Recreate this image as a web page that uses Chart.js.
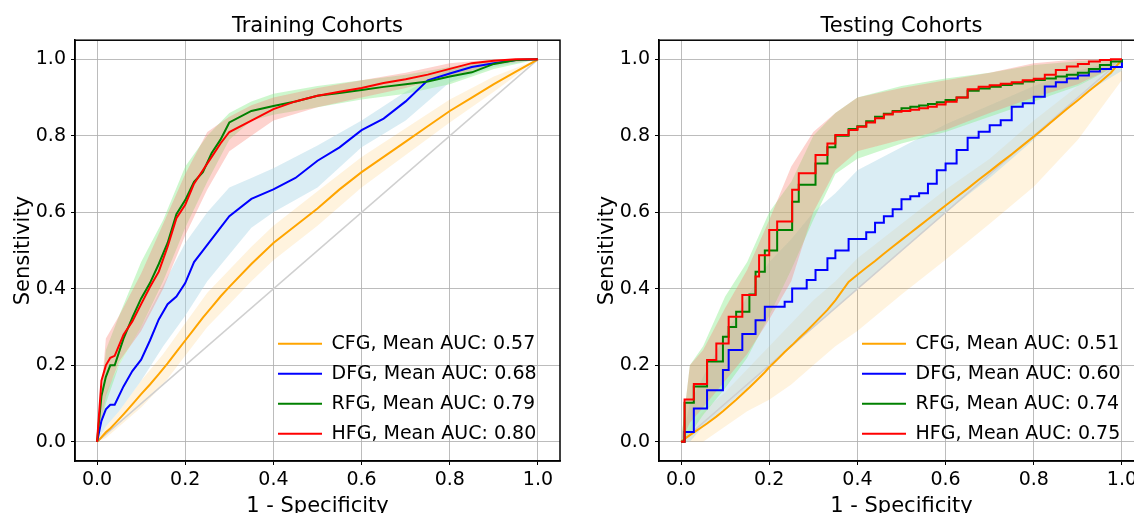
<!DOCTYPE html>
<html>
<head>
<meta charset="utf-8">
<script src="https://cdn.jsdelivr.net/npm/chart.js@4.4.0/dist/chart.umd.min.js"></script>
<style>
html, body { margin: 0; padding: 0; background: #fff; overflow: hidden; }
#wrap { position: relative; width: 1134px; height: 513px; overflow: hidden; }
.panel { position: absolute; top: 0; width: 570px; height: 513px; }
canvas { display: block; }
</style>
</head>
<body>
<div id="wrap">
  <div class="panel" style="left:0"><canvas id="trainChart" width="570" height="513"></canvas></div>
  <div class="panel" style="left:584px"><canvas id="testChart" width="570" height="513"></canvas></div>
</div>
<script>
const tickValues = [0, 0.2, 0.4, 0.6, 0.8, 1.0];
const tickLabels = ['0.0', '0.2', '0.4', '0.6', '0.8', '1.0'];
const groups = ['CFG', 'DFG', 'RFG', 'HFG'];
const trainAuc = ['0.57', '0.68', '0.79', '0.80'];
const testAuc = ['0.51', '0.60', '0.74', '0.75'];

const diagFpr = [0, 1];
const diagTpr = [0, 1];

// training cohorts, mean curves
const trainFpr = [0, 0.01, 0.02, 0.03, 0.04, 0.06, 0.08, 0.10, 0.12, 0.14, 0.16, 0.18, 0.20, 0.22, 0.24, 0.26,
  0.28, 0.30, 0.35, 0.40, 0.45, 0.50, 0.55, 0.60, 0.65, 0.70, 0.75, 0.80, 0.85, 0.90, 0.95, 1.00];
const trainCfg = [0, 0.012, 0.025, 0.035, 0.047, 0.072, 0.098, 0.125, 0.15, 0.177, 0.205, 0.235, 0.265, 0.295, 0.325, 0.352,
  0.38, 0.405, 0.465, 0.52, 0.565, 0.61, 0.66, 0.705, 0.745, 0.785, 0.825, 0.865, 0.9, 0.935, 0.968, 1.0];
const trainDfg = [0, 0.055, 0.085, 0.097, 0.097, 0.145, 0.185, 0.215, 0.265, 0.32, 0.36, 0.38, 0.415, 0.47, 0.50, 0.53,
  0.56, 0.59, 0.635, 0.66, 0.69, 0.735, 0.77, 0.815, 0.845, 0.89, 0.945, 0.963, 0.98, 0.99, 0.998, 1.0];
const trainRfg = [0, 0.12, 0.17, 0.20, 0.20, 0.27, 0.325, 0.375, 0.415, 0.465, 0.52, 0.595, 0.632, 0.68, 0.705, 0.755,
  0.79, 0.835, 0.865, 0.878, 0.89, 0.905, 0.912, 0.92, 0.928, 0.935, 0.942, 0.955, 0.966, 0.988, 0.998, 1.0];
const trainHfg = [0, 0.16, 0.20, 0.22, 0.225, 0.28, 0.315, 0.36, 0.405, 0.445, 0.51, 0.585, 0.62, 0.675, 0.71, 0.745,
  0.78, 0.81, 0.84, 0.87, 0.89, 0.905, 0.915, 0.925, 0.938, 0.948, 0.96, 0.975, 0.99, 0.996, 1.0, 1.0];

// std bands (both cohorts)
const bandFpr = [0, 0.02, 0.05, 0.1, 0.15, 0.2, 0.25, 0.3, 0.35, 0.4, 0.5, 0.6, 0.7, 0.8, 0.9, 1.0];
const trainCfgLow = [0, 0.01, 0.04, 0.09, 0.15, 0.225, 0.3, 0.36, 0.42, 0.475, 0.565, 0.665, 0.75, 0.835, 0.915, 1.0];
const trainCfgHigh = [0, 0.04, 0.08, 0.16, 0.23, 0.31, 0.39, 0.45, 0.51, 0.565, 0.655, 0.745, 0.82, 0.895, 0.955, 1.0];
const trainDfgLow = [0, 0.04, 0.08, 0.16, 0.25, 0.33, 0.42, 0.49, 0.56, 0.6, 0.665, 0.77, 0.84, 0.94, 0.98, 1.0];
const trainDfgHigh = [0, 0.13, 0.2, 0.3, 0.41, 0.52, 0.6, 0.665, 0.69, 0.715, 0.775, 0.84, 0.915, 0.975, 0.995, 1.0];
const trainRfgLow = [0, 0.1, 0.2, 0.3, 0.42, 0.56, 0.68, 0.79, 0.84, 0.855, 0.875, 0.895, 0.91, 0.935, 0.975, 1.0];
const trainRfgHigh = [0, 0.24, 0.33, 0.47, 0.58, 0.72, 0.8, 0.86, 0.89, 0.91, 0.93, 0.945, 0.96, 0.98, 0.997, 1.0];
const trainHfgLow = [0, 0.12, 0.21, 0.29, 0.4, 0.54, 0.66, 0.76, 0.8, 0.84, 0.875, 0.9, 0.925, 0.955, 0.985, 1.0];
const trainHfgHigh = [0, 0.27, 0.33, 0.44, 0.57, 0.7, 0.81, 0.85, 0.88, 0.9, 0.925, 0.945, 0.965, 0.99, 1.0, 1.0];

// testing cohorts, mean curves
const testFpr = [0, 0.008, 0.029, 0.045, 0.059, 0.08, 0.095, 0.108, 0.125, 0.139,
  0.155, 0.169, 0.177, 0.19, 0.2, 0.218, 0.235, 0.252, 0.267, 0.285,
  0.305, 0.332, 0.35, 0.38, 0.4, 0.42, 0.44, 0.46, 0.48, 0.5,
  0.52, 0.54, 0.56, 0.58, 0.6, 0.625, 0.65, 0.675, 0.7, 0.725,
  0.75, 0.775, 0.8, 0.825, 0.85, 0.875, 0.9, 0.925, 0.95, 0.975, 1.0];
const testCfg = [0, 0.008, 0.025, 0.037, 0.048, 0.066, 0.08, 0.093, 0.11, 0.125,
  0.142, 0.158, 0.167, 0.182, 0.195, 0.215, 0.235, 0.253, 0.27, 0.29,
  0.313, 0.345, 0.37, 0.418, 0.437, 0.455, 0.473, 0.492, 0.51, 0.528,
  0.546, 0.564, 0.582, 0.6, 0.618, 0.64, 0.662, 0.685, 0.707, 0.73,
  0.752, 0.775, 0.798, 0.822, 0.846, 0.87, 0.893, 0.917, 0.94, 0.965, 1.0];
const testDfg = [0, 0.026, 0.087, 0.087, 0.135, 0.135, 0.188, 0.24, 0.24, 0.282,
  0.282, 0.318, 0.318, 0.353, 0.353, 0.353, 0.366, 0.401, 0.401, 0.423,
  0.449, 0.48, 0.50, 0.53, 0.53, 0.548, 0.573, 0.59, 0.608, 0.634,
  0.642, 0.65, 0.675, 0.71, 0.728, 0.763, 0.795, 0.811, 0.828, 0.841,
  0.876, 0.885, 0.902, 0.929, 0.94, 0.95, 0.958, 0.968, 0.975, 0.98, 1.0];
const testRfg = [0, 0.102, 0.145, 0.145, 0.21, 0.21, 0.275, 0.30, 0.34, 0.34,
  0.385, 0.445, 0.445, 0.50, 0.50, 0.554, 0.554, 0.628, 0.672, 0.672,
  0.728, 0.77, 0.80, 0.818, 0.825, 0.838, 0.85, 0.858, 0.865, 0.872,
  0.876, 0.879, 0.883, 0.888, 0.894, 0.9, 0.918, 0.924, 0.928, 0.933,
  0.937, 0.942, 0.946, 0.95, 0.955, 0.96, 0.965, 0.975, 0.985, 0.994, 1.0];
const testHfg = [0, 0.111, 0.151, 0.151, 0.214, 0.257, 0.257, 0.327, 0.327, 0.384,
  0.384, 0.432, 0.488, 0.488, 0.554, 0.576, 0.576, 0.659, 0.702, 0.702,
  0.75, 0.78, 0.802, 0.815, 0.824, 0.835, 0.846, 0.856, 0.863, 0.865,
  0.868, 0.872, 0.876, 0.882, 0.889, 0.9, 0.922, 0.928, 0.932, 0.936,
  0.94, 0.945, 0.949, 0.96, 0.972, 0.981, 0.988, 0.994, 0.998, 1.0, 1.0];

const testCfgLow = [0, 0, 0, 0.04, 0.08, 0.11, 0.15, 0.2, 0.25, 0.29, 0.385, 0.476, 0.57, 0.667, 0.79, 0.946];
const testCfgHigh = [0, 0.04, 0.08, 0.13, 0.19, 0.25, 0.31, 0.37, 0.42, 0.48, 0.57, 0.66, 0.74, 0.84, 0.93, 1.0];
const testDfgLow = [0, 0, 0.04, 0.09, 0.14, 0.2, 0.25, 0.3, 0.35, 0.4, 0.5, 0.6, 0.69, 0.79, 0.9, 0.97];
const testDfgHigh = [0, 0.1, 0.17, 0.28, 0.38, 0.47, 0.53, 0.6, 0.65, 0.71, 0.77, 0.83, 0.88, 0.93, 0.97, 1.0];
const testRfgLow = [0, 0.02, 0.07, 0.14, 0.22, 0.33, 0.45, 0.58, 0.7, 0.74, 0.78, 0.81, 0.85, 0.89, 0.93, 0.99];
const testRfgHigh = [0, 0.2, 0.25, 0.38, 0.47, 0.6, 0.68, 0.8, 0.86, 0.9, 0.93, 0.95, 0.965, 0.985, 0.995, 1.0];
const testHfgLow = [0, 0.05, 0.09, 0.16, 0.23, 0.32, 0.42, 0.6, 0.71, 0.76, 0.79, 0.815, 0.86, 0.9, 0.935, 0.99];
const testHfgHigh = [0, 0.2, 0.24, 0.35, 0.45, 0.58, 0.72, 0.81, 0.86, 0.9, 0.925, 0.945, 0.965, 0.99, 1.0, 1.0];

const lineColors = ['#ffa500', '#0000ff', '#008000', '#ff0000'];
const bandColors = ['rgba(255,165,0,0.13)', 'rgba(173,216,230,0.45)', 'rgba(144,238,144,0.45)', 'rgba(250,128,114,0.35)'];

Chart.defaults.font.family = '"DejaVu Sans", sans-serif';
Chart.defaults.color = '#000';

function pts(xs, ys) {
  return xs.map((x, i) => ({ x: x, y: ys[i] }));
}

// matplotlib-like frame around the plot area
const framePlugin = {
  id: 'frame',
  afterDatasetsDraw(chart) {
    const { ctx, chartArea: a } = chart;
    ctx.save();
    ctx.strokeStyle = '#000';
    ctx.lineWidth = 1.5;
    ctx.strokeRect(a.left, a.top, a.right - a.left, a.bottom - a.top);
    ctx.restore();
  }
};

// put the legend in the lower right corner of the plot area
const legendPlacer = {
  id: 'legendPlacer',
  afterLayout(chart) {
    const lg = chart.legend;
    const a = chart.chartArea;
    lg.left = a.left + 192;
    lg.top = a.top + 283;
    lg.right = lg.left + lg.width;
    lg.bottom = lg.top + lg.height;
  }
};

function makeAxis(title, isX) {
  return {
    type: 'linear',
    min: -0.05,
    max: 1.05,
    afterBuildTicks: (s) => { s.ticks = tickValues.map(v => ({ value: v })); },
    afterFit: (s) => { if (isX) s.height = 52; else s.width = 75; },
    ticks: {
      callback: (v, i) => tickLabels[i],
      font: { size: 19 },
      color: '#000',
      padding: isX ? 4 : 5,
      maxRotation: 0,
      autoSkip: false
    },
    grid: { color: 'rgba(176,176,176,0.85)', lineWidth: 1, tickLength: 4, tickColor: '#000' },
    border: { color: '#000', width: 1.5 },
    title: {
      display: true,
      text: title,
      font: { size: 21, lineHeight: 1 },
      color: '#000',
      padding: isX ? { top: 0, bottom: -4 } : { top: 13, bottom: 0 }
    }
  };
}

function buildChart(id, title, fpr, means, lows, highs, aucs, stepped) {
  const datasets = [];
  for (let k = 3; k >= 0; k--) {
    datasets.push({
      label: groups[k] + ', Mean AUC: ' + aucs[k],
      data: pts(fpr, means[k]),
      borderColor: lineColors[k],
      backgroundColor: lineColors[k],
      borderWidth: 2,
      pointRadius: 0,
      fill: false,
      stepped: stepped[k]
    });
  }
  datasets.push({
    label: 'chance',
    data: pts(diagFpr, diagTpr),
    borderColor: '#d0d0d0',
    borderWidth: 1.5,
    pointRadius: 0,
    fill: false
  });
  for (let k = 3; k >= 0; k--) {
    const lowIndex = datasets.length;
    datasets.push({
      label: 'low',
      data: pts(bandFpr, lows[k]),
      borderColor: 'rgba(0,0,0,0)',
      borderWidth: 0,
      pointRadius: 0,
      fill: false
    });
    datasets.push({
      label: 'high',
      data: pts(bandFpr, highs[k]),
      borderColor: 'rgba(0,0,0,0)',
      backgroundColor: bandColors[k],
      borderWidth: 0,
      pointRadius: 0,
      fill: lowIndex
    });
  }

  return new Chart(document.getElementById(id), {
    type: 'line',
    data: { datasets: datasets },
    options: {
      responsive: false,
      animation: false,
      events: [],
      layout: { padding: { left: 0, right: 10, top: 0, bottom: 0 } },
      scales: {
        x: makeAxis('1 - Specificity', true),
        y: makeAxis('Sensitivity', false)
      },
      plugins: {
        title: {
          display: true,
          text: title,
          fullSize: false,
          font: { size: 21, weight: 'normal', lineHeight: 1.2 },
          color: '#000',
          padding: { top: 14, bottom: 1 }
        },
        legend: {
          position: 'chartArea',
          align: 'start',
          labels: {
            filter: (item) => item.datasetIndex < 4,
            sort: (a, b) => b.datasetIndex - a.datasetIndex,
            usePointStyle: true,
            pointStyle: 'line',
            pointStyleWidth: 44,
            font: { size: 19 },
            color: '#000',
            padding: 11
          }
        },
        tooltip: { enabled: false }
      }
    },
    plugins: [framePlugin, legendPlacer]
  });
}

buildChart('trainChart', 'Training Cohorts', trainFpr,
  [trainCfg, trainDfg, trainRfg, trainHfg],
  [trainCfgLow, trainDfgLow, trainRfgLow, trainHfgLow],
  [trainCfgHigh, trainDfgHigh, trainRfgHigh, trainHfgHigh],
  trainAuc, [false, false, false, false]);

buildChart('testChart', 'Testing Cohorts', testFpr,
  [testCfg, testDfg, testRfg, testHfg],
  [testCfgLow, testDfgLow, testRfgLow, testHfgLow],
  [testCfgHigh, testDfgHigh, testRfgHigh, testHfgHigh],
  testAuc, [false, true, true, true]);
</script>
</body>
</html>
